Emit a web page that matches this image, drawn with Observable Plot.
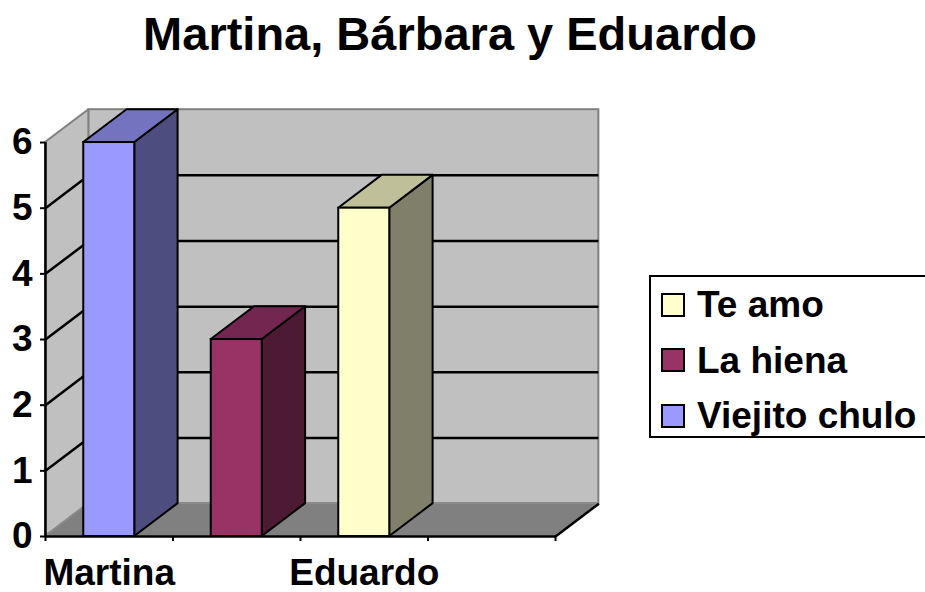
<!DOCTYPE html>
<html>
<head>
<meta charset="utf-8">
<script src="https://cdn.jsdelivr.net/npm/d3@7"></script>
<script src="https://cdn.jsdelivr.net/npm/@observablehq/plot@0.6"></script>
<style>
  html, body { margin: 0; padding: 0; background: #fff; }
  body { width: 925px; height: 592px; overflow: hidden; position: relative;
         font-family: "Liberation Sans", Arial, sans-serif; font-weight: bold; color: #000; }
  #title { position: absolute; left: 0; top: 10px; width: 900px; text-align: center;
           font-size: 47px; line-height: 47px; white-space: nowrap; }
  #chart { position: absolute; left: 0; top: 86px; }
  #legend { position: absolute; left: 649px; top: 275px; width: 300px; height: 163px;
            border: 2px solid #000; box-sizing: border-box; }
  .row { position: absolute; left: 10px; height: 40px; display: flex; align-items: center;
         font-size: 37px; line-height: 37px; white-space: nowrap; }
  .sw { width: 24px; height: 24px; border: 2px solid #000; box-sizing: border-box; margin-right: 12px; }
</style>
</head>
<body>
<div id="title">Martina, Bárbara y Eduardo</div>
<div id="chart"></div>
<div id="legend"></div>
<script>
// ---- data ----
const categories = ["Martina", "Bárbara", "Eduardo", ""];
const seriesNames = ["Te amo", "La hiena", "Viejito chulo"];
const seriesCategory = ["Eduardo", "Bárbara", "Martina"];
const seriesValues = [5, 3, 6];
const yTicks = [0, 1, 2, 3, 4, 5, 6];

// ---- styles ----
const frontColors = ["#ffffcc", "#993366", "#9999ff"];
const topColors   = ["#bfbf99", "#732650", "#7373bf"];
const sideColors  = ["#80806a", "#4d1a33", "#4d4d80"];

// 3D oblique depth expressed in data units
const DX = 0.34, DY = 0.5, BAR_W = 0.4;
const nCat = categories.length;
const yMax = d3.max(yTicks);

const bars = seriesNames.map((s, i) => {
  const c = categories.indexOf(seriesCategory[i]);
  const x0 = c + (1 - BAR_W) / 2, x1 = x0 + BAR_W;
  return {s, i, x0, x1, v: seriesValues[i]};
});

const marks = [];
// back wall
marks.push(Plot.rect([{x1: DX, x2: nCat + DX, y1: DY, y2: yMax + DY}],
  {x1: "x1", x2: "x2", y1: "y1", y2: "y2", fill: "#c0c0c0", stroke: "#808080", strokeWidth: 2}));
// left wall
marks.push(Plot.areaY([{x: 0, y1: 0, y2: yMax}, {x: DX, y1: DY, y2: yMax + DY}],
  {x: "x", y1: "y1", y2: "y2", fill: "#c0c0c0", stroke: "#808080", strokeWidth: 2}));
// floor
marks.push(Plot.areaX([{y: 0, x1: 0, x2: nCat}, {y: DY, x1: DX, x2: nCat + DX}],
  {y: "y", x1: "x1", x2: "x2", fill: "#808080", stroke: "#8c8c8c", strokeWidth: 1.5}));
// floor front & right edges
marks.push(Plot.link([{x1: 0, y1: 0, x2: nCat, y2: 0}, {x1: nCat, y1: 0, x2: nCat + DX, y2: DY}],
  {x1: "x1", y1: "y1", x2: "x2", y2: "y2", stroke: "#000", strokeWidth: 2.5}));
// gridlines (back wall + left wall)
const inner = yTicks.filter(t => t > 0 && t < yMax);
marks.push(Plot.ruleY(inner.map(t => t + DY), {x1: DX, x2: nCat + DX, stroke: "#000", strokeWidth: 2.5}));
marks.push(Plot.link(inner, {x1: () => 0, y1: d => d, x2: () => DX, y2: d => d + DY, stroke: "#000", strokeWidth: 2.5}));
// bars
for (const b of bars) {
  marks.push(Plot.areaY([{x: b.x1, y1: 0, y2: b.v}, {x: b.x1 + DX, y1: DY, y2: b.v + DY}],
    {x: "x", y1: "y1", y2: "y2", fill: sideColors[b.i], stroke: "#000", strokeWidth: 2}));
  marks.push(Plot.areaX([{y: b.v, x1: b.x0, x2: b.x1}, {y: b.v + DY, x1: b.x0 + DX, x2: b.x1 + DX}],
    {y: "y", x1: "x1", x2: "x2", fill: topColors[b.i], stroke: "#000", strokeWidth: 2}));
  marks.push(Plot.rect([b], {x1: "x0", x2: "x1", y1: () => 0, y2: "v",
    fill: frontColors[b.i], stroke: "#000", strokeWidth: 2}));
}
// axes
marks.push(Plot.ruleX([0], {y1: 0, y2: yMax, stroke: "#000", strokeWidth: 2.5}));
marks.push(Plot.axisY({ticks: yTicks, tickSize: 5, tickPadding: 8, tickFormat: d => String(d), strokeWidth: 2}));
marks.push(Plot.axisX({ticks: d3.range(nCat + 1), tickSize: 5, tickFormat: () => "", strokeWidth: 2}));
marks.push(Plot.axisX({ticks: categories.map((c, i) => i + 0.5), tickSize: 0, tickPadding: 22,
  tickFormat: d => { const i = Math.floor(d); return i % 2 === 0 ? categories[i] : ""; }}));

const chart = Plot.plot({
  width: 640,
  height: 506,
  marginLeft: 45,
  marginRight: 640 - (45 + (nCat + DX) * 127.5),
  marginTop: 23.2,
  marginBottom: 56,
  x: {type: "linear", domain: [0, nCat + DX]},
  y: {type: "linear", domain: [0, yMax + DY]},
  style: {fontFamily: "'Liberation Sans', Arial, sans-serif", fontSize: "37px", fontWeight: "bold",
          background: "transparent", overflow: "visible", color: "#000"},
  marks
});
document.getElementById("chart").appendChild(chart);

// legend
const legend = document.getElementById("legend");
const rowCenters = [27.5, 83, 138.5];
seriesNames.forEach((s, i) => {
  const row = document.createElement("div");
  row.className = "row";
  row.style.top = (rowCenters[i] - 20) + "px";
  const sw = document.createElement("div");
  sw.className = "sw";
  sw.style.background = frontColors[i];
  const t = document.createElement("span");
  t.textContent = s;
  row.appendChild(sw);
  row.appendChild(t);
  legend.appendChild(row);
});
</script>
</body>
</html>
